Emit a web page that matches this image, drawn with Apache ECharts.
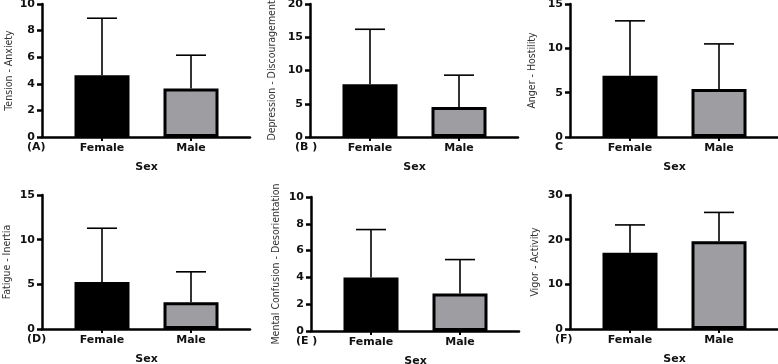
<!DOCTYPE html>
<html><head><meta charset="utf-8">
<script src="https://cdn.jsdelivr.net/npm/echarts@6/dist/echarts.min.js"></script>
<style>html,body{margin:0;padding:0;background:#fff}#c{width:778px;height:364px}</style>
</head><body><div id="c"></div>
<script>
// ---- data ----
const categories = ['Female', 'Male'];
const panelLetters = ['(A)', '(B )', 'C', '(D)', '(E )', '(F)'];
const yTitles = ['Tension - Anxiety', 'Depression - Discouragement', 'Anger - Hostility',
                 'Fatigue - Inertia', 'Mental Confusion - Desorientation', 'Vigor - Activity'];
const xTitle = 'Sex';
const yMax = [10, 20, 15, 15, 10, 30];
const yInterval = [2, 5, 5, 5, 2, 10];
const meanA = [4.65, 3.65];  const sdA = [4.28, 2.50];
const meanB = [7.95, 4.50];  const sdB = [8.25, 4.80];
const meanC = [6.90, 5.40];  const sdC = [6.20, 5.10];
const meanD = [5.25, 3.00];  const sdD = [6.03, 3.40];
const meanE = [4.00, 2.80];  const sdE = [3.57, 2.53];
const meanF = [17.05, 19.65]; const sdF = [6.25, 6.45];
const means = [meanA, meanB, meanC, meanD, meanE, meanF];
const sds = [sdA, sdB, sdC, sdD, sdE, sdF];

// ---- layout / style ----
const fills = ['#000000', '#9e9ea2'];
const layout = [
  {x0: 42, top: 4, zero: 137, gap: 27}, {x0: 310, top: 4, zero: 137, gap: 32}, {x0: 570, top: 4, zero: 137, gap: 32},
  {x0: 42, top: 195, zero: 329, gap: 29}, {x0: 311, top: 197, zero: 331, gap: 29}, {x0: 570, top: 195, zero: 329, gap: 29}
];
const tickFont = {fontFamily: 'DejaVu Sans', fontWeight: 'bold', fontSize: 11, color: '#111'};
const titleFont = {fontFamily: 'Liberation Sans Narrow, DejaVu Sans Condensed, sans-serif', fontSize: 10.5, color: '#333'};

const grid = [], xAxis = [], yAxis = [], series = [], title = [];
layout.forEach((L, p) => {
  const h = L.zero - L.top;
  grid.push({left: L.x0, top: L.top, width: 208, height: h, containLabel: false, outerBoundsMode: 'none'});
  grid.push({left: L.x0 + 15.5, top: L.top, width: 178, height: h, containLabel: false, outerBoundsMode: 'none'});
  const gf = 2 * p, gb = 2 * p + 1;
  xAxis.push({gridIndex: gf, type: 'value', min: 0, max: 1, axisLine: {show: true, onZero: false, lineStyle: {color: '#000', width: 2.5}},
    axisTick: {show: false}, axisLabel: {show: false}, splitLine: {show: false}});
  xAxis.push({gridIndex: gb, type: 'category', data: categories, boundaryGap: true,
    axisLine: {show: false}, axisTick: {show: true, alignWithLabel: true, length: 4, lineStyle: {color: '#000', width: 2}},
    axisLabel: Object.assign({margin: 6}, tickFont),
    name: xTitle, nameLocation: 'middle', nameGap: 25, nameTextStyle: Object.assign({}, tickFont)});
  yAxis.push({gridIndex: gf, type: 'value', min: 0, max: yMax[p], interval: yInterval[p],
    axisLine: {show: true, lineStyle: {color: '#000', width: 2.5}},
    axisTick: {show: true, length: 5, lineStyle: {color: '#000', width: 2.5}},
    axisLabel: Object.assign({margin: 7}, tickFont), splitLine: {show: false},
    name: yTitles[p], nameLocation: 'middle', nameGap: L.gap, nameRotate: 90,
    nameTextStyle: titleFont});
  yAxis.push({gridIndex: gb, type: 'value', min: 0, max: yMax[p], show: false});
  series.push({type: 'bar', xAxisIndex: gb, yAxisIndex: gb, barWidth: 55, z: 3,
    data: means[p].map((v, i) => ({value: v, itemStyle: {color: fills[i], borderColor: '#000', borderWidth: 3}}))});
  series.push({type: 'custom', xAxisIndex: gb, yAxisIndex: gb, z: 2,
    data: means[p].map((v, i) => [i, v, sds[p][i]]),
    renderItem: function (params, api) {
      const base = api.coord([api.value(0), api.value(1)]);
      const tip = api.coord([api.value(0), api.value(1) + api.value(2)]);
      const style = {stroke: '#000', lineWidth: 1.6};
      return {type: 'group', children: [
        {type: 'line', shape: {x1: base[0], y1: base[1], x2: tip[0], y2: tip[1]}, style: style},
        {type: 'line', shape: {x1: tip[0] - 15, y1: tip[1], x2: tip[0] + 15, y2: tip[1]}, style: style}
      ]};
    }});
  title.push({text: panelLetters[p], left: L.x0 - 15, top: L.zero + 5,
    textStyle: Object.assign({}, tickFont), padding: 0});
});

const chart = echarts.init(document.getElementById('c'), null, {renderer: 'canvas'});
chart.setOption({backgroundColor: '#fff', animation: false, title, grid, xAxis, yAxis, series});
</script></body></html>
